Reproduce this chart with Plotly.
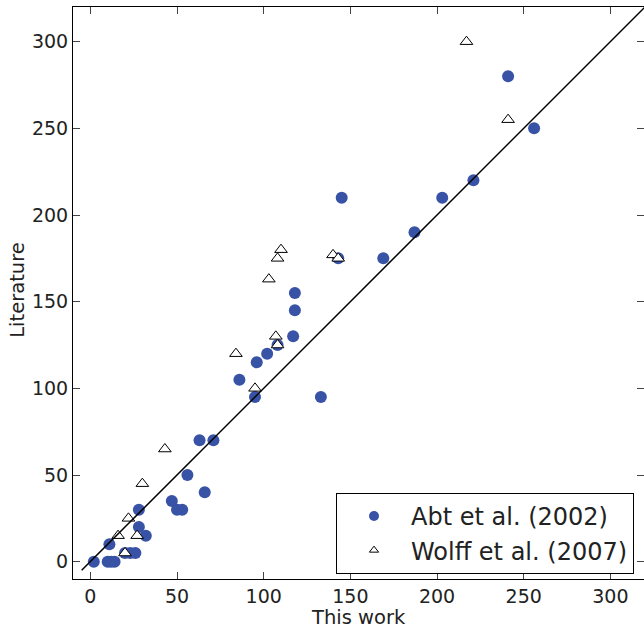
import plotly.graph_objects as go

# Abt et al. (2002)
abt_x = [2, 10, 12, 14, 11, 20, 23, 26, 28, 32, 28, 47, 50, 53, 56, 66, 63, 71,
         86, 95, 96, 102, 108, 117, 118, 118, 133, 145, 143, 169, 187, 203, 221, 241, 256]
abt_y = [0, 0, 0, 0, 10, 5, 5, 5, 20, 15, 30, 35, 30, 30, 50, 40, 70, 70,
         105, 95, 115, 120, 125, 130, 145, 155, 95, 210, 175, 175, 190, 210, 220, 280, 250]

# Wolff et al. (2007)
wolff_x = [16, 20, 27, 22, 30, 43, 84, 95, 107, 108, 103, 108, 110, 140, 143, 217, 241]
wolff_y = [15, 5, 15, 25, 45, 65, 120, 100, 130, 125, 163, 175, 180, 177, 175, 300, 255]

# one-to-one line
line_x = [-5, 320]
line_y = [-5, 320]

x_ticks = [0, 50, 100, 150, 200, 250, 300]
y_ticks = [0, 50, 100, 150, 200, 250, 300]

x_title = "This work"
y_title = "Literature"

blue = "#3852a6"
font = "DejaVu Sans"

fig = go.Figure()
fig.add_trace(go.Scatter(x=abt_x, y=abt_y, mode="markers", showlegend=False,
                         marker=dict(symbol="circle", size=12, color=blue, line=dict(width=0))))
fig.add_trace(go.Scatter(x=wolff_x, y=wolff_y, mode="markers", showlegend=False,
                         marker=dict(symbol="triangle-up", size=11, color="white",
                                     line=dict(width=1, color="black"))))
fig.add_trace(go.Scatter(x=line_x, y=line_y, mode="lines", showlegend=False,
                         line=dict(color="black", width=1.5)))
# legend entries
fig.add_trace(go.Scatter(x=[None], y=[None], mode="markers", name="Abt et al. (2002)",
                         marker=dict(symbol="circle", size=10, color=blue, line=dict(width=0))))
fig.add_trace(go.Scatter(x=[None], y=[None], mode="markers", name="Wolff et al. (2007)",
                         marker=dict(symbol="triangle-up", size=8, color="white",
                                     line=dict(width=1, color="black"))))
# right-side ticks carrier
fig.add_trace(go.Scatter(x=[None], y=[None], yaxis="y2", showlegend=False, hoverinfo="skip"))

fig.update_layout(
    width=644, height=628,
    margin=dict(l=73, r=0, t=7, b=49),
    plot_bgcolor="white", paper_bgcolor="white",
    font=dict(family=font, size=19, color="#222"),
    xaxis=dict(range=[-10, 319.4], tickvals=x_ticks, ticks="inside", ticklen=7,
               tickcolor="#444", showline=True, linecolor="black", linewidth=1,
               mirror="ticks", showgrid=False, zeroline=False, automargin=False,
               tickfont=dict(size=19)),
    yaxis=dict(range=[-10, 320], tickvals=y_ticks, ticks="inside", ticklen=7,
               tickcolor="#444", showline=True, linecolor="black", linewidth=1,
               showgrid=False, zeroline=False, automargin=False,
               tickfont=dict(size=19)),
    yaxis2=dict(range=[-10, 320], tickvals=y_ticks, ticks="inside", ticklen=7,
                tickcolor="#444", overlaying="y", side="right", showline=False,
                showticklabels=False, showgrid=False, zeroline=False, automargin=False),
    legend=dict(x=0.9825, y=0.009, xanchor="right", yanchor="bottom",
                bordercolor="black", borderwidth=1, bgcolor="white",
                font=dict(family=font, size=24, color="#222"),
                itemwidth=64, tracegroupgap=0),
    annotations=[
        dict(text=x_title, xref="paper", yref="paper", x=0.5, y=-0.067,
             xanchor="center", yanchor="middle", showarrow=False,
             font=dict(family=font, size=19.5, color="#222")),
        dict(text=y_title, xref="paper", yref="paper", x=-0.097, y=0.505,
             xanchor="center", yanchor="middle", showarrow=False, textangle=-90,
             font=dict(family=font, size=19.5, color="#222")),
    ],
)

fig.write_html("out.html")
